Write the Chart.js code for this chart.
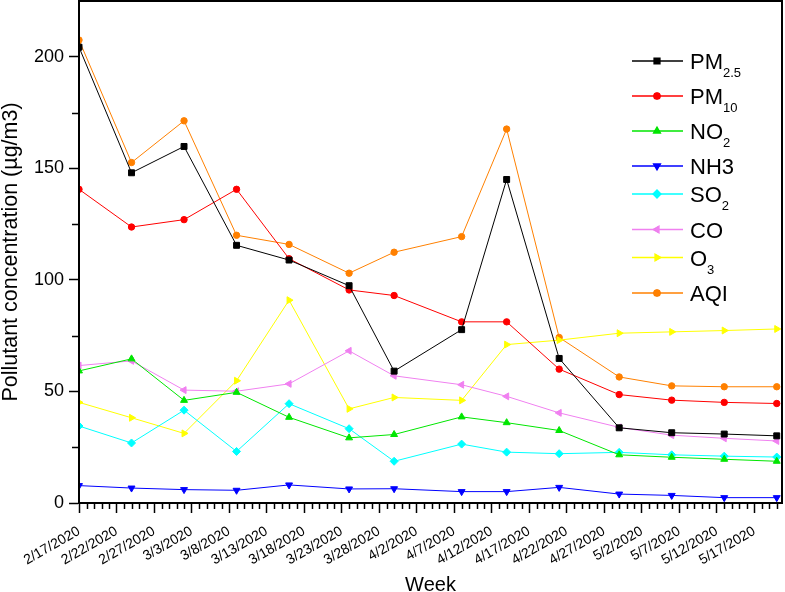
<!DOCTYPE html>
<html>
<head>
<meta charset="utf-8">
<script src="https://cdn.jsdelivr.net/npm/chart.js@4.4.1/dist/chart.umd.min.js"></script>
<style>
  body { margin: 0; background: #fff; }
  canvas { display: block; }
</style>
</head>
<body>
<canvas id="airChart" width="785" height="592"></canvas>
<script>
// Datos (días desde 2/17/2020)
const days = [0, 7, 14, 21, 28, 36, 42, 51, 57, 64, 72, 79, 86, 93]
const pm25 = [204.3, 148, 159.8, 115.5, 108.9, 97.4, 59.1, 77.7, 145, 64.8, 33.7, 31.5, 30.9, 30.1]
const pm10 = [140.6, 123.7, 127, 140.6, 109.5, 95.5, 93, 81.2, 81.2, 60, 48.6, 46.1, 45.1, 44.6]
const no2 = [59.2, 64.6, 46, 49.6, 38.4, 29.2, 30.7, 38.6, 36, 32.5, 21.6, 20.5, 19.6, 18.7]
const nh3 = [7.8, 6.7, 6, 5.7, 8.1, 6.3, 6.4, 5.1, 5.1, 7, 4, 3.4, 2.4, 2.4]
const so2 = [34.5, 26.9, 41.6, 23.1, 44.5, 33.3, 18.7, 26.4, 22.8, 22.1, 22.7, 21.6, 21, 20.6]
const co = [61.6, 63.7, 50.6, 50.1, 53.4, 68.2, 57, 53, 47.8, 40.4, 33.9, 30.4, 29, 27.8]
const o3 = [45.1, 38.2, 31.2, 54.8, 90.9, 42.2, 47.3, 46, 71, 73, 76.1, 76.7, 77.3, 78]
const aqi = [207.5, 152.6, 171.3, 120, 115.9, 103, 112.4, 119.4, 167.6, 74.2, 56.5, 52.5, 52.1, 52.1]

const xTickLabels = ["2/17/2020", "2/22/2020", "2/27/2020", "3/3/2020", "3/8/2020", "3/13/2020", "3/18/2020",
  "3/23/2020", "3/28/2020", "4/2/2020", "4/7/2020", "4/12/2020", "4/17/2020", "4/22/2020", "4/27/2020",
  "5/2/2020", "5/7/2020", "5/12/2020", "5/17/2020"]

const legendMain = ["PM", "PM", "NO", "NH3", "SO", "CO", "O", "AQI"]
const legendSub = ["2.5", "10", "2", "", "2", "", "3", ""]

const FONT = "'Liberation Sans', Arial, sans-serif"

function toPoints(values) {
  return values.map((v, i) => ({ x: days[i], y: v }))
}

function makeSet(label, values, color, style, radius, rotation) {
  return {
    label: label,
    data: toPoints(values),
    borderColor: color,
    backgroundColor: color,
    borderWidth: 1,
    pointStyle: style,
    pointRadius: radius,
    pointRotation: rotation || 0,
    pointBorderWidth: 1,
    pointBackgroundColor: color,
    pointBorderColor: color,
    tension: 0,
  }
}

const datasets = [
  makeSet("PM2.5", pm25, "#000000", "rect", 4.2),
  makeSet("PM10", pm10, "#ff0000", "circle", 3.2),
  makeSet("NO2", no2, "#00e600", "triangle", 4),
  makeSet("NH3", nh3, "#0000ff", "triangle", 4, 180),
  makeSet("SO2", so2, "#00ffff", "rectRot", 4),
  makeSet("CO", co, "#f080f0", "triangle", 4, 270),
  makeSet("O3", o3, "#ffff00", "triangle", 4, 90),
  makeSet("AQI", aqi, "#ff8000", "circle", 3.2),
]

// Marco, ticks menores y leyenda
const framePlugin = {
  id: "frame",
  afterDraw(chart) {
    const ctx = chart.ctx
    const a = chart.chartArea
    const xs = chart.scales.x
    const ys = chart.scales.y
    ctx.save()
    ctx.strokeStyle = "#000"
    ctx.lineWidth = 2
    ctx.strokeRect(a.left, a.top, a.right - a.left, a.bottom - a.top)

    // ticks menores
    ctx.lineWidth = 1.5
    ctx.beginPath()
    for (let d = 1; d <= 93; d++) {
      if (d % 5 === 0) continue
      const px = Math.round(xs.getPixelForValue(d)) + 0.5
      ctx.moveTo(px, a.bottom)
      ctx.lineTo(px, a.bottom + 6)
    }
    for (let v = 25; v < 225; v += 50) {
      const py = Math.round(ys.getPixelForValue(v)) + 0.5
      ctx.moveTo(a.left, py)
      ctx.lineTo(a.left - 7, py)
    }
    ctx.stroke()

    // leyenda
    const rowsY = [61, 96, 131, 166, 194, 229.5, 257.5, 293]
    chart.data.datasets.forEach((ds, i) => {
      const y = rowsY[i]
      ctx.strokeStyle = ds.borderColor
      ctx.lineWidth = 1.3
      ctx.beginPath()
      ctx.moveTo(632, y)
      ctx.lineTo(683, y)
      ctx.stroke()
      Chart.helpers.drawPoint(ctx, {
        pointStyle: ds.pointStyle,
        radius: ds.pointRadius,
        rotation: ds.pointRotation,
        borderWidth: 1,
      }, 657, y)
      ctx.fillStyle = ds.borderColor
      ctx.fill()
      ctx.fillStyle = "#000"
      ctx.textBaseline = "alphabetic"
      ctx.textAlign = "left"
      ctx.font = "22px " + FONT
      ctx.fillText(legendMain[i], 690, y + 8)
      if (legendSub[i]) {
        const w = ctx.measureText(legendMain[i]).width
        ctx.font = "13px " + FONT
        ctx.fillText(legendSub[i], 690 + w, y + 16)
      }
    })
    ctx.restore()
  },
}

const ctx = document.getElementById("airChart").getContext("2d")
const chart = new Chart(ctx, {
  type: "line",
  data: { datasets: datasets },
  options: {
    responsive: false,
    animation: false,
    events: [],
    layout: { autoPadding: false, padding: { top: 1, right: 3, left: 0, bottom: 0 } },
    plugins: {
      legend: { display: false },
      tooltip: { enabled: false },
    },
    scales: {
      x: {
        type: "linear",
        min: 0,
        max: 93.7,
        afterFit: (scale) => {
          scale.height = 89
          scale.paddingLeft = 0
          scale.paddingRight = 0
        },
        border: { color: "#000", width: 2 },
        grid: { drawOnChartArea: false, tickLength: 10, tickColor: "#000", tickWidth: 1.5 },
        ticks: {
          stepSize: 5,
          includeBounds: false,
          autoSkip: false,
          maxRotation: 30,
          minRotation: 30,
          padding: 10,
          color: "#000",
          font: { family: FONT, size: 14 },
          callback: (value) => xTickLabels[value / 5] || "",
        },
        title: {
          display: true,
          text: "Week",
          color: "#000",
          font: { family: FONT, size: 20, lineHeight: 1 },
          padding: { top: 0, bottom: -3 },
        },
      },
      y: {
        min: 0,
        max: 225,
        afterFit: (scale) => {
          scale.width = 79
          scale.paddingTop = 0
          scale.paddingBottom = 0
        },
        border: { color: "#000", width: 2 },
        grid: { drawOnChartArea: false, tickLength: 10, tickColor: "#000", tickWidth: 1.5 },
        ticks: {
          stepSize: 50,
          includeBounds: false,
          padding: 5,
          color: "#000",
          font: { family: FONT, size: 18 },
        },
        title: {
          display: true,
          text: "Pollutant concentration (µg/m3)",
          color: "#000",
          font: { family: FONT, size: 21.5, lineHeight: 1 },
          padding: { top: 0, bottom: 0 },
        },
      },
    },
  },
  plugins: [framePlugin],
})
</script>
</body>
</html>
